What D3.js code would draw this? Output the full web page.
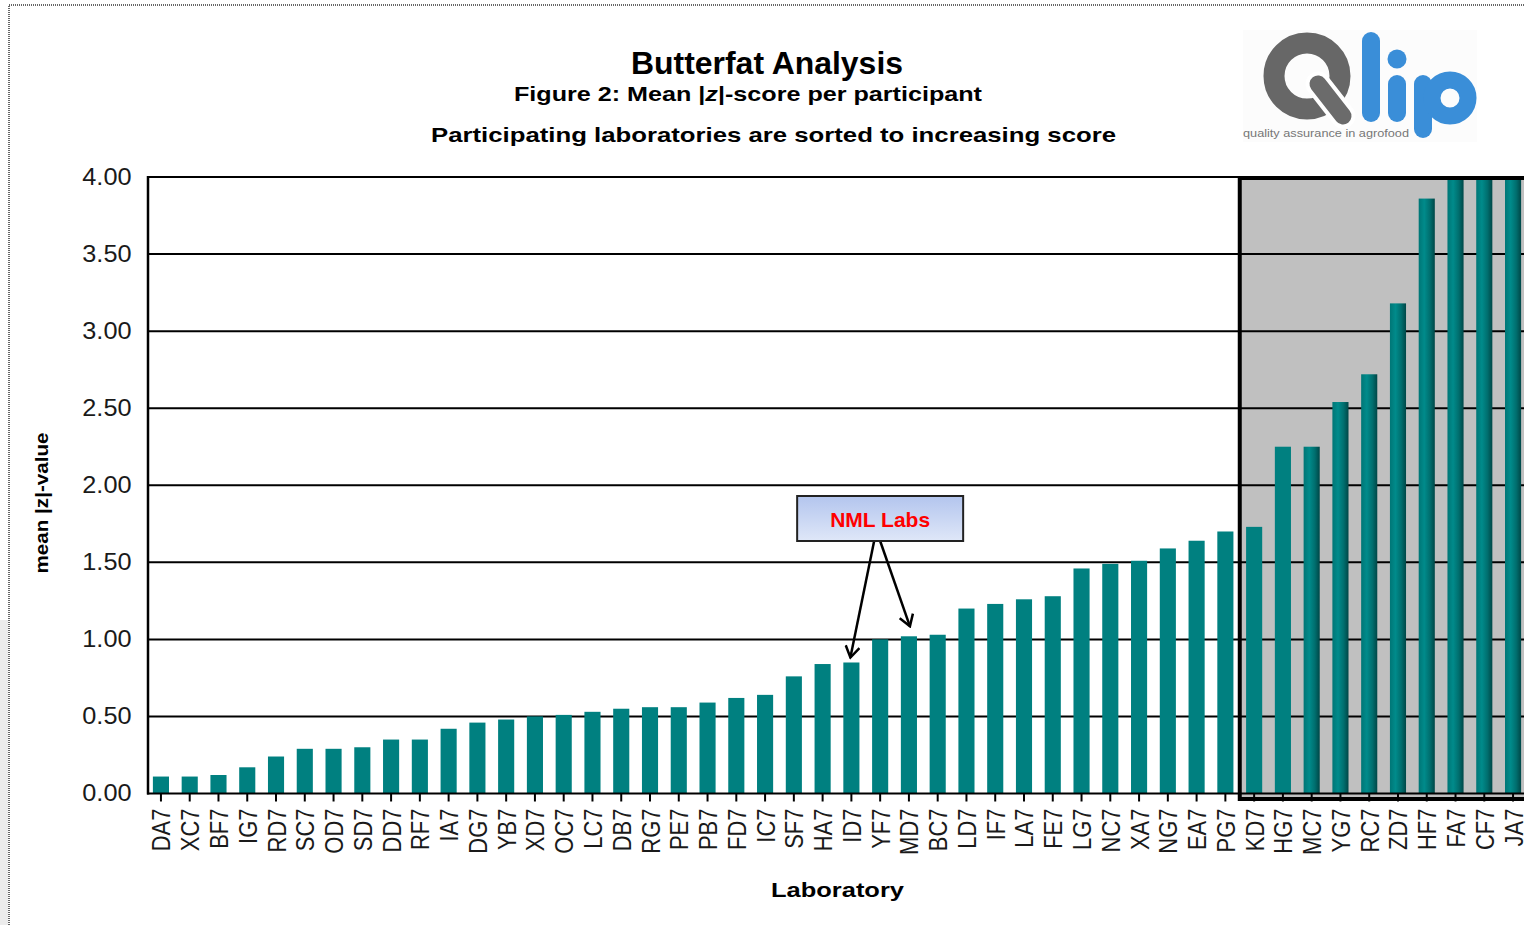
<!DOCTYPE html>
<html lang=en>
  <head>
    <meta charset="utf-8">
    <title>Butterfat Analysis</title>
    <style>
      body { margin: 0; background: #fff; }
      svg { display: block; font-family: "Liberation Sans", Arial, sans-serif; }
    </style>
  </head>
  <body>
    <svg width="1524" height="925"></svg>
    <script src="https://d3js.org/d3.v7.min.js"></script>
    <script>

      // laboratories, sorted to increasing score
      const labs = ["DA7","XC7","BF7","IG7","RD7","SC7","OD7","SD7","DD7","RF7","IA7","DG7",
        "YB7","XD7","OC7","LC7","DB7","RG7","PE7","PB7","FD7","IC7","SF7","HA7","ID7","YF7",
        "MD7","BC7","LD7","IF7","LA7","FE7","LG7","NC7","XA7","NG7","EA7","PG7","KD7","HG7",
        "MC7","YG7","RC7","ZD7","HF7","FA7","CF7","JA7"]

      // mean |z|-score per lab (last three run off the top of the chart)
      const scores = [0.11,0.11,0.12,0.17,0.24,0.29,0.29,0.30,0.35,0.35,0.42,0.46,
        0.48,0.50,0.51,0.53,0.55,0.56,0.56,0.59,0.62,0.64,0.76,0.84,0.85,1.00,
        1.02,1.03,1.20,1.23,1.26,1.28,1.46,1.49,1.51,1.59,1.64,1.70,1.73,2.25,
        2.25,2.54,2.72,3.18,3.86,4.30,4.60,5.00]

      const yTicks = [0, 0.5, 1, 1.5, 2, 2.5, 3, 3.5, 4]

      // labs in the grey (out of range) zone, and the ones pointed at
      const firstGrey = "KD7"
      const firstShaded = "MC7"
      const nmlLabs = ["ID7", "MD7"]

      const svg = d3.select("svg")
      const pLeft = 148, pRight = 1526, pTop = 177, pBottom = 793.5

      const x = d3.scaleBand().domain(labs).range([pLeft, pRight])
        .paddingInner(0.44).paddingOuter(0.17)
      const y = d3.scaleLinear().domain([0, 4]).range([pBottom, pTop]).clamp(true)

      const defs = svg.append("defs")
      const cyl = defs.append("linearGradient").attr("id", "cyl")
      cyl.append("stop").attr("offset", "0%").attr("stop-color", "#007676")
      cyl.append("stop").attr("offset", "35%").attr("stop-color", "#008b8b")
      cyl.append("stop").attr("offset", "70%").attr("stop-color", "#006e6e")
      cyl.append("stop").attr("offset", "100%").attr("stop-color", "#004747")
      const boxFill = defs.append("linearGradient").attr("id", "boxFill")
        .attr("x1", 0).attr("y1", 0).attr("x2", 0).attr("y2", 1)
      boxFill.append("stop").attr("offset", "0%").attr("stop-color", "#b3c5ee")
      boxFill.append("stop").attr("offset", "100%").attr("stop-color", "#dfe7f8")
      defs.append("marker").attr("id", "head")
        .attr("viewBox", "-12 -8 14 16").attr("refX", 0).attr("refY", 0)
        .attr("markerWidth", 14).attr("markerHeight", 16)
        .attr("markerUnits", "userSpaceOnUse").attr("orient", "auto")
        .append("path").attr("d", "M-11,-7L0,0L-11,7")
        .attr("fill", "none").attr("stroke", "#000").attr("stroke-width", 2.5)

      // page frame
      svg.append("rect").attr("x", 0).attr("y", 620).attr("width", 8).attr("height", 305).attr("fill", "#ececec")
      svg.append("path").attr("d", "M9,925V5H1524")
        .attr("fill", "none").attr("stroke", "#666").attr("stroke-width", 2).attr("stroke-dasharray", "1,1")

      // grey zone behind the worst labs
      const greyX = x(firstGrey) - x.step() * x.paddingInner() / 2
      svg.append("rect").attr("x", greyX).attr("y", pTop + 1)
        .attr("width", 1600 - greyX).attr("height", 799 - pTop - 1)
        .attr("fill", "#c0c0c0")

      // gridlines
      svg.append("g").selectAll("line")
        .data(yTicks.filter(d => d > 0))
        .enter().append("line")
          .attr("x1", pLeft).attr("x2", 1524)
          .attr("y1", d => y(d)).attr("y2", d => y(d))
          .attr("stroke", "#000").attr("stroke-width", 2)

      // bars
      const shadedFrom = labs.indexOf(firstShaded)
      svg.append("g").selectAll("rect")
        .data(labs)
        .enter().append("rect")
          .attr("x", d => x(d))
          .attr("y", (d, i) => y(scores[i]))
          .attr("width", x.bandwidth())
          .attr("height", (d, i) => pBottom - y(scores[i]))
          .attr("fill", (d, i) => i >= shadedFrom ? "url(#cyl)" : "#008080")

      // grey zone border
      svg.append("rect").attr("x", greyX).attr("y", pTop + 1)
        .attr("width", 1600 - greyX).attr("height", 799 - pTop - 1)
        .attr("fill", "none").attr("stroke", "#000").attr("stroke-width", 4)

      // x axis
      const xAxis = svg.append("g")
        .attr("transform", "translate(0," + pBottom + ")")
        .call(d3.axisBottom(x).tickSize(8).tickSizeOuter(0))
      xAxis.select(".domain").remove()
      xAxis.selectAll("line").attr("stroke", "#000").attr("stroke-width", 2)
      xAxis.selectAll("text")
        .attr("x", 0).attr("y", 0).attr("dy", "0.36em")
        .attr("transform", "translate(0,15) scale(1.2,1) rotate(-90)")
        .attr("text-anchor", "end")
        .attr("font-family", "Liberation Sans, Arial, sans-serif")
        .attr("font-size", 22).attr("fill", "#1a1a1a")

      svg.append("line").attr("x1", pLeft - 1).attr("x2", 1524)
        .attr("y1", pBottom).attr("y2", pBottom)
        .attr("stroke", "#000").attr("stroke-width", 2)

      // y axis
      const yAxis = svg.append("g")
        .attr("transform", "translate(" + pLeft + ",0)")
        .call(d3.axisLeft(y).tickValues(yTicks).tickSize(0).tickPadding(15).tickFormat(d3.format(".2f")))
      yAxis.select(".domain").remove()
      yAxis.selectAll("text")
        .attr("transform", "scale(1.1,1)")
        .attr("font-family", "Liberation Sans, Arial, sans-serif")
        .attr("font-size", 23).attr("fill", "#1a1a1a")

      svg.append("line").attr("x1", pLeft).attr("x2", pLeft)
        .attr("y1", pTop - 1).attr("y2", pBottom + 1)
        .attr("stroke", "#000").attr("stroke-width", 2.5)

      // titles
      svg.append("text").attr("x", 767).attr("y", 74)
        .attr("text-anchor", "middle").attr("font-weight", "bold").attr("font-size", 32)
        .attr("textLength", 272).attr("lengthAdjust", "spacingAndGlyphs")
        .text("Butterfat Analysis")

      const sub = svg.append("text").attr("x", 748).attr("y", 101)
        .attr("text-anchor", "middle").attr("font-weight", "bold").attr("font-size", 21)
        .attr("textLength", 468).attr("lengthAdjust", "spacingAndGlyphs")
      sub.append("tspan").text("Figure 2: Mean |")
      sub.append("tspan").attr("font-style", "italic").text("z")
      sub.append("tspan").text("|-score per participant")

      svg.append("text").attr("x", 773.5).attr("y", 142)
        .attr("text-anchor", "middle").attr("font-weight", "bold").attr("font-size", 21)
        .attr("textLength", 685).attr("lengthAdjust", "spacingAndGlyphs")
        .text("Participating laboratories are sorted to increasing score")

      svg.append("text").attr("x", 837.5).attr("y", 897)
        .attr("text-anchor", "middle").attr("font-weight", "bold").attr("font-size", 21)
        .attr("textLength", 133).attr("lengthAdjust", "spacingAndGlyphs")
        .text("Laboratory")

      const yl = svg.append("text")
        .attr("transform", "translate(48,503) rotate(-90)")
        .attr("text-anchor", "middle").attr("font-weight", "bold").attr("font-size", 19)
        .attr("textLength", 141).attr("lengthAdjust", "spacingAndGlyphs")
      yl.append("tspan").text("mean |")
      yl.append("tspan").text("z")
      yl.append("tspan").text("|-value")

      // NML Labs callout
      const i0 = labs.indexOf(nmlLabs[0]), i1 = labs.indexOf(nmlLabs[1])
      const cx0 = x(nmlLabs[0]) + x.bandwidth() / 2
      const cx1 = x(nmlLabs[1]) + x.bandwidth() / 2
      const boxCx = (cx0 + cx1) / 2
      const boxTop = 496, boxH = 45, boxW = 166
      svg.append("line")
        .attr("x1", boxCx - 6).attr("y1", boxTop + boxH)
        .attr("x2", cx0 - 1).attr("y2", y(scores[i0]) - 5)
        .attr("stroke", "#000").attr("stroke-width", 2.5).attr("marker-end", "url(#head)")
      svg.append("line")
        .attr("x1", boxCx).attr("y1", boxTop + boxH)
        .attr("x2", cx1 + 1).attr("y2", y(scores[i1]) - 10)
        .attr("stroke", "#000").attr("stroke-width", 2.5).attr("marker-end", "url(#head)")
      svg.append("rect")
        .attr("x", boxCx - boxW / 2).attr("y", boxTop)
        .attr("width", boxW).attr("height", boxH)
        .attr("fill", "url(#boxFill)").attr("stroke", "#222").attr("stroke-width", 2)
      svg.append("text").attr("x", boxCx).attr("y", boxTop + 31)
        .attr("text-anchor", "middle").attr("font-weight", "bold").attr("font-size", 21)
        .attr("fill", "#ff0000").text("NML Labs")

      // Qlip logo
      const logo = svg.append("g")
      logo.append("rect").attr("x", 1243).attr("y", 30).attr("width", 234).attr("height", 112).attr("fill", "#fcfcfc")
      logo.append("circle").attr("cx", 1307).attr("cy", 76).attr("r", 33)
        .attr("fill", "none").attr("stroke", "#676767").attr("stroke-width", 21)
      logo.append("line").attr("x1", 1318).attr("y1", 84).attr("x2", 1343).attr("y2", 116)
        .attr("stroke", "#fff").attr("stroke-width", 25).attr("stroke-linecap", "round")
      logo.append("line").attr("x1", 1318).attr("y1", 84).attr("x2", 1343).attr("y2", 116)
        .attr("stroke", "#6b6b6b").attr("stroke-width", 17).attr("stroke-linecap", "round")
      const blue = "#3a8ed8"
      logo.append("rect").attr("x", 1362).attr("y", 32).attr("width", 18).attr("height", 90).attr("rx", 9).attr("fill", blue)
      logo.append("circle").attr("cx", 1397).attr("cy", 59).attr("r", 9.5).attr("fill", blue)
      logo.append("rect").attr("x", 1388).attr("y", 75).attr("width", 18).attr("height", 47).attr("rx", 9).attr("fill", blue)
      logo.append("rect").attr("x", 1414).attr("y", 75).attr("width", 18).attr("height", 63).attr("rx", 9).attr("fill", blue)
      logo.append("circle").attr("cx", 1450).attr("cy", 98).attr("r", 18)
        .attr("fill", "none").attr("stroke", blue).attr("stroke-width", 17)
      logo.append("text").attr("x", 1243).attr("y", 137).attr("font-size", 11)
        .attr("fill", "#777").attr("textLength", 166).attr("lengthAdjust", "spacingAndGlyphs")
        .text("quality assurance in agrofood")
    </script>
  </body>
</html>
